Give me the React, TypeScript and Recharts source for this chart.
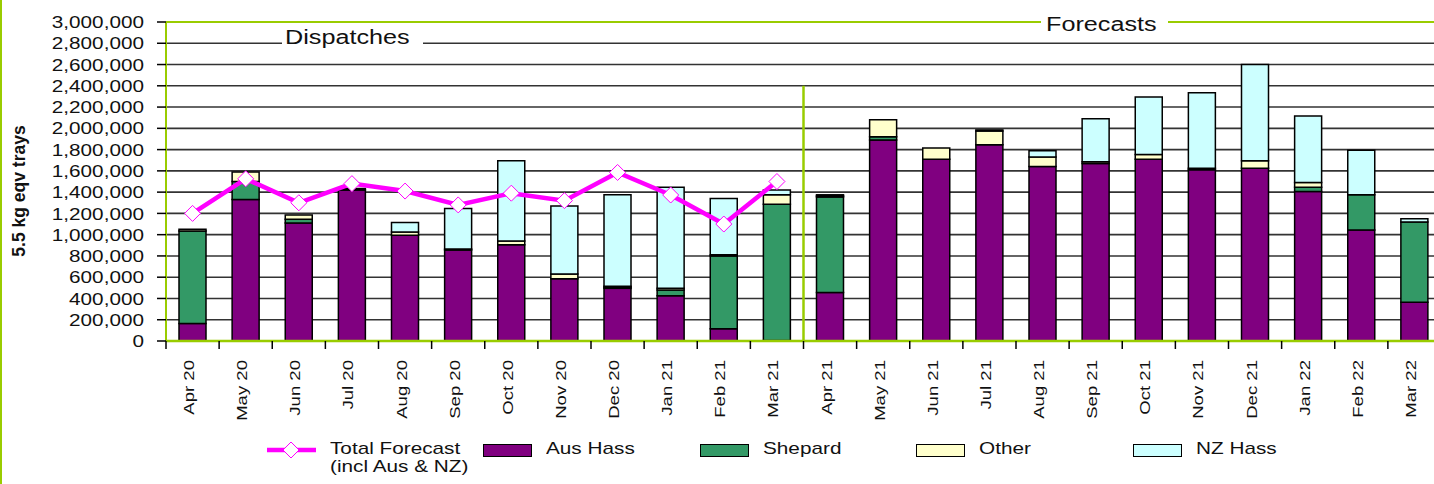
import React from 'react'
import {
  ComposedChart, Bar, Line, XAxis, YAxis, CartesianGrid, ReferenceLine, Legend,
} from 'recharts'

const FONT = '"Liberation Sans", Arial, sans-serif'
const GREEN = '#99CC00'
const CHART_W = 1441
const CHART_H = 484
const PLOT_LEFT = 166

const months = [
  'Apr 20', 'May 20', 'Jun 20', 'Jul 20', 'Aug 20', 'Sep 20', 'Oct 20', 'Nov 20', 'Dec 20', 'Jan 21', 'Feb 21', 'Mar 21',
  'Apr 21', 'May 21', 'Jun 21', 'Jul 21', 'Aug 21', 'Sep 21', 'Oct 21', 'Nov 21', 'Dec 21', 'Jan 22', 'Feb 22', 'Mar 22',
]
const ausHass = [
  165000, 1330000, 1110000, 1420000, 995000, 855000, 905000, 585000, 495000, 425000, 115000, 5000,
  455000, 1890000, 1710000, 1845000, 1640000, 1670000, 1710000, 1610000, 1625000, 1405000, 1045000, 365000,
]
const shepard = [
  870000, 170000, 35000, 15000, 0, 0, 0, 0, 10000, 55000, 685000, 1280000,
  900000, 30000, 0, 0, 0, 0, 0, 0, 0, 40000, 330000, 755000,
]
const other = [
  15000, 90000, 40000, 0, 30000, 10000, 35000, 45000, 10000, 15000, 10000, 90000,
  10000, 160000, 105000, 130000, 90000, 15000, 45000, 15000, 70000, 45000, 0, 0,
]
const nzHass = [
  0, 0, 0, 0, 90000, 380000, 755000, 640000, 860000, 950000, 530000, 45000,
  10000, 0, 0, 10000, 60000, 405000, 540000, 710000, 905000, 625000, 420000, 30000,
]
const totalForecast: (number | null)[] = [
  1200000, 1525000, 1300000, 1480000, 1410000, 1280000, 1390000, 1320000, 1585000, 1373000, 1100000, 1500000,
  null, null, null, null, null, null, null, null, null, null, null, null,
]
const yTicks = [
  0, 200000, 400000, 600000, 800000, 1000000, 1200000, 1400000, 1600000,
  1800000, 2000000, 2200000, 2400000, 2600000, 2800000, 3000000,
]

const data = months.map((month, i) => ({
  month,
  aus: ausHass[i],
  shepard: shepard[i],
  other: other[i],
  nz: nzHass[i],
  total: totalForecast[i],
}))

const HALF_BAND = (CHART_W - PLOT_LEFT) / months.length / 2

function YTick({ x, y, payload }: any) {
  return (
    <text transform={`translate(${x},${y}) scale(1.22,1)`} x={0} y={0} dy="0.36em" textAnchor="end"
      fontFamily={FONT} fontSize={17} fill="#111">
      {Number(payload.value).toLocaleString('en-US')}
    </text>
  )
}

function MonthTick({ x, y, payload }: any) {
  return (
    <g>
      <line x1={x - HALF_BAND} x2={x - HALF_BAND} y1={y} y2={y + 8} stroke="#000" strokeWidth={1.5} />
      <text transform={`translate(${x + 1.5},${y + 19}) rotate(-90) scale(1.28,1)`} x={0} y={0} textAnchor="end"
        fontFamily={FONT} fontSize={14.5} fill="#111">
        {payload.value}
      </text>
    </g>
  )
}

function Diamond(p: any) {
  const { cx, cy, index } = p
  if (cx == null || cy == null || p.value == null) return <g key={`d${index}`} />
  return (
    <polygon key={`d${index}`} points={`${cx},${cy - 8} ${cx + 8},${cy} ${cx},${cy + 8} ${cx - 8},${cy}`}
      fill="#fff" stroke="#FF00FF" strokeWidth={1} />
  )
}

const boxItems = [
  { name: 'Aus Hass', color: '#800080' },
  { name: 'Shepard', color: '#339966' },
  { name: 'Other', color: '#FFFFCC' },
  { name: 'NZ Hass', color: '#CCFFFF' },
]

function LegendContent() {
  const text: React.CSSProperties = {
    position: 'absolute', left: 63, top: 0, whiteSpace: 'nowrap', fontSize: 17, lineHeight: '18px',
    transform: 'scaleX(1.22)', transformOrigin: 'left top', color: '#111', fontFamily: FONT,
  }
  return (
    <div style={{ position: 'relative', height: 44 }}>
      <div style={{ position: 'absolute', left: 267, top: 0 }}>
        <svg width={50} height={20} style={{ position: 'absolute', left: 0, top: 0 }}>
          <line x1={0} x2={49} y1={10} y2={10} stroke="#FF00FF" strokeWidth={4.5} />
          <polygon points="24,2 32,10 24,18 16,10" fill="#fff" stroke="#FF00FF" strokeWidth={1} />
        </svg>
        <div style={text}>Total Forecast<br />(incl Aus &amp; NZ)</div>
      </div>
      {boxItems.map((it, i) => (
        <div key={it.name} style={{ position: 'absolute', left: 483 + i * 216.7, top: 0 }}>
          <div style={{
            position: 'absolute', left: 0, top: 3.5, width: 49, height: 13, boxSizing: 'border-box',
            border: '1.5px solid #000', background: it.color,
          }} />
          <div style={text}>{it.name}</div>
        </div>
      ))}
    </div>
  )
}

export default function App() {
  return (
    <div style={{ position: 'relative', width: 1434, height: 484, overflow: 'hidden', background: '#fff' }}>
      <style>{'body{margin:0}'}</style>
      <ComposedChart width={CHART_W} height={CHART_H} data={data}
        margin={{ top: 22, right: 0, left: 0, bottom: 53 }}>
        <CartesianGrid vertical={false} stroke="#333" strokeWidth={1.6} />
        <XAxis dataKey="month" interval={0} height={90} tickSize={0} tickMargin={0} tickLine={false}
          axisLine={{ stroke: GREEN, strokeWidth: 2.5 }} tick={(p: any) => <MonthTick {...p} />} />
        <YAxis domain={[0, 3000000]} ticks={yTicks} interval={0} width={PLOT_LEFT} tickSize={9} tickMargin={13}
          axisLine={{ stroke: GREEN, strokeWidth: 2 }} tickLine={{ stroke: '#000', strokeWidth: 1.5 }}
          tick={(p: any) => <YTick {...p} />} />
        <ReferenceLine y={3000000} stroke={GREEN} strokeWidth={2} />
        <Bar dataKey="aus" name="Aus Hass" stackId="a" fill="#800080" stroke="#000" strokeWidth={1.5} barSize={27} isAnimationActive={false} />
        <Bar dataKey="shepard" name="Shepard" stackId="a" fill="#339966" stroke="#000" strokeWidth={1.5} barSize={27} isAnimationActive={false} />
        <Bar dataKey="other" name="Other" stackId="a" fill="#FFFFCC" stroke="#000" strokeWidth={1.5} barSize={27} isAnimationActive={false} />
        <Bar dataKey="nz" name="NZ Hass" stackId="a" fill="#CCFFFF" stroke="#000" strokeWidth={1.5} barSize={27} isAnimationActive={false} />
        <ReferenceLine segment={[{ x: 'Apr 21', y: 0 }, { x: 'Apr 21', y: 2400000 }]} position="start"
          stroke={GREEN} strokeWidth={2.5} />
        <Line dataKey="total" name="Total Forecast (incl Aus & NZ)" type="linear" stroke="#FF00FF" strokeWidth={4.5}
          dot={Diamond} activeDot={false} connectNulls={false} isAnimationActive={false} />
        <Legend layout="horizontal" verticalAlign="middle" align="center" content={() => <LegendContent />}
          wrapperStyle={{ top: 440, left: 0, width: CHART_W }} />
      </ComposedChart>
      <svg width={1434} height={484} style={{ position: 'absolute', left: 0, top: 0, pointerEvents: 'none' }}>
        <line x1={1} x2={1} y1={0} y2={484} stroke={GREEN} strokeWidth={2} />
        <rect x={282} y={30} width={141} height={20} fill="#fff" />
        <text transform="translate(285,43.5) scale(1.2,1)" fontFamily={FONT} fontSize={21} fill="#111">Dispatches</text>
        <rect x={1041} y={12} width={127} height={22} fill="#fff" />
        <text transform="translate(1046,30.5) scale(1.2,1)" fontFamily={FONT} fontSize={21} fill="#111">Forecasts</text>
        <text transform="translate(25,191) rotate(-90)" textAnchor="middle" fontFamily={FONT} fontSize={17.5}
          fontWeight="bold" fill="#111">5.5 kg eqv trays</text>
      </svg>
    </div>
  )
}
